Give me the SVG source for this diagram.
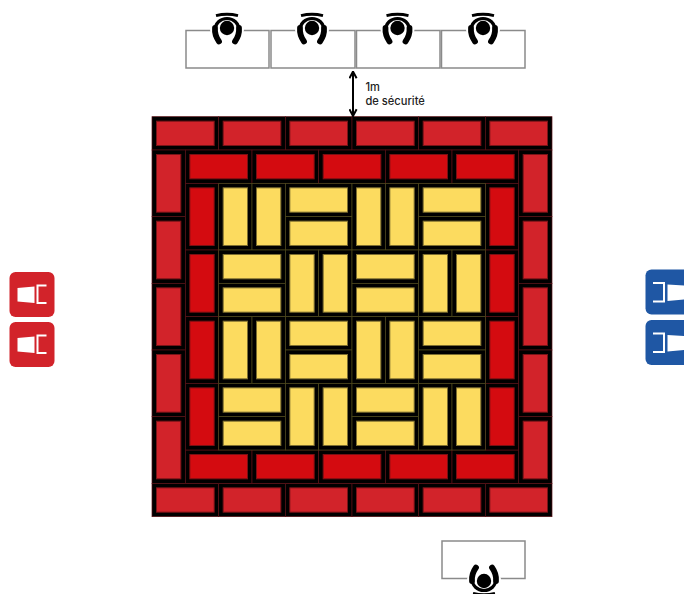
<svg xmlns="http://www.w3.org/2000/svg" width="684" height="594" viewBox="0 0 684 594">
<style>
.cell{fill:#000;stroke:#5a1015;stroke-width:.7}
.ycell{fill:#000;stroke:#4f4a1c;stroke-width:.7}
.o{fill:#d2232a;stroke:#7a1418;stroke-width:1}
.r{fill:#d40b10;stroke:#7a1014;stroke-width:1}
.y{fill:#fcdb5f;stroke:#7d6e30;stroke-width:1}
.table{fill:#fff;stroke:#8a8a8a;stroke-width:1.5}
.seat{fill:#fff}
.back{fill:none;stroke:#fff;stroke-width:2}
.lbl{font-family:Inter,"Liberation Sans",sans-serif;font-size:11.1px;font-weight:500;fill:#222}
</style>
<defs>
<rect id="ch" class="cell" width="66.67" height="33.33"/>
<rect id="cv" class="cell" width="33.33" height="66.67"/>
<g id="oh"><use href="#ch"/><rect class="o" x="4.5" y="4.5" width="57.67" height="24.33"/></g>
<g id="ov"><use href="#cv"/><rect class="o" x="4.5" y="4.5" width="24.33" height="57.67"/></g>
<g id="rh"><use href="#ch"/><rect class="r" x="4.5" y="4.5" width="57.67" height="24.33"/></g>
<g id="rv"><use href="#cv"/><rect class="r" x="4.5" y="4.5" width="24.33" height="57.67"/></g>
<g id="yh"><rect class="ycell" width="66.67" height="33.33"/><rect class="y" x="4.5" y="4.5" width="57.67" height="24.33"/></g>
<g id="yv"><rect class="ycell" width="33.33" height="66.67"/><rect class="y" x="4.5" y="4.5" width="24.33" height="57.67"/></g>
<g id="bh"><use href="#yh"/><use href="#yh" y="33.33"/></g>
<g id="bv"><use href="#yv"/><use href="#yv" x="33.33"/></g>
<g id="person">
<path d="M-13 16 L-17 2 C-17 -8 -8 -14 0 -14 C8 -14 17 -8 17 2 L13 16 Z" fill="#fff"/>
<path d="M-12 3 C-12 -5 -6.500 -9.500 0 -9.500 C6.500 -9.500 12 -5 12 3" fill="none" stroke="#000" stroke-width="3.200"/>
<path d="M-12 0 C-12.500 6 -10.500 10 -8 13.500" fill="none" stroke="#000" stroke-width="5.800" stroke-linecap="round"/>
<path d="M12 0 C12.500 6 10.500 10 8 13.500" fill="none" stroke="#000" stroke-width="5.800" stroke-linecap="round"/>
<circle r="7.200" fill="#000"/>
<path d="M-11 -12.300 Q0 -15.200 11 -12.300" fill="none" stroke="#000" stroke-width="2.800"/>
</g>
<g id="chairL">
<path class="seat" d="M17.500 288 L34.500 286.500 L34.500 303 L17.500 301.500 Z"/>
<path class="back" d="M46.500 285.500 L37.500 285.500 L37.500 303 L46.500 303"/>
</g>
<g id="chairR">
<path class="seat" d="M667.500 284.500 L684 285.500 L684 299.500 L667.500 301 Z"/>
<path class="back" d="M653 283 L664 283 L664 301.500 L653 301.500"/>
</g>
<marker id="ah" viewBox="0 0 10 10" refX="9" refY="5" markerWidth="9" markerHeight="9" orient="auto-start-reverse" markerUnits="userSpaceOnUse"><path d="M1.500 1 L9 5 L1.500 9" fill="none" stroke="#000" stroke-width="2.200"/></marker>
</defs>

<g id="floor">
<g id="outer-ring">
<use href="#oh" x="152" y="116.67"/><use href="#oh" x="218.67" y="116.67"/><use href="#oh" x="285.33" y="116.67"/><use href="#oh" x="352" y="116.67"/><use href="#oh" x="418.67" y="116.67"/><use href="#oh" x="485.33" y="116.67"/>
<use href="#oh" x="152" y="483.33"/><use href="#oh" x="218.67" y="483.33"/><use href="#oh" x="285.33" y="483.33"/><use href="#oh" x="352" y="483.33"/><use href="#oh" x="418.67" y="483.33"/><use href="#oh" x="485.33" y="483.33"/>
<use href="#ov" x="152" y="150"/><use href="#ov" x="152" y="216.67"/><use href="#ov" x="152" y="283.33"/><use href="#ov" x="152" y="350"/><use href="#ov" x="152" y="416.67"/>
<use href="#ov" x="518.67" y="150"/><use href="#ov" x="518.67" y="216.67"/><use href="#ov" x="518.67" y="283.33"/><use href="#ov" x="518.67" y="350"/><use href="#ov" x="518.67" y="416.67"/>
</g>
<g id="inner-ring">
<use href="#rh" x="185.33" y="150"/><use href="#rh" x="252" y="150"/><use href="#rh" x="318.67" y="150"/><use href="#rh" x="385.33" y="150"/><use href="#rh" x="452" y="150"/>
<use href="#rh" x="185.33" y="450"/><use href="#rh" x="252" y="450"/><use href="#rh" x="318.67" y="450"/><use href="#rh" x="385.33" y="450"/><use href="#rh" x="452" y="450"/>
<use href="#rv" x="185.33" y="183.33"/><use href="#rv" x="185.33" y="250"/><use href="#rv" x="185.33" y="316.67"/><use href="#rv" x="185.33" y="383.33"/>
<use href="#rv" x="485.33" y="183.33"/><use href="#rv" x="485.33" y="250"/><use href="#rv" x="485.33" y="316.67"/><use href="#rv" x="485.33" y="383.33"/>
</g>
<g id="center">
<use href="#bv" x="218.67" y="183.33"/><use href="#bh" x="285.33" y="183.33"/><use href="#bv" x="352" y="183.33"/><use href="#bh" x="418.67" y="183.33"/>
<use href="#bh" x="218.67" y="250"/><use href="#bv" x="285.33" y="250"/><use href="#bh" x="352" y="250"/><use href="#bv" x="418.67" y="250"/>
<use href="#bv" x="218.67" y="316.67"/><use href="#bh" x="285.33" y="316.67"/><use href="#bv" x="352" y="316.67"/><use href="#bh" x="418.67" y="316.67"/>
<use href="#bh" x="218.67" y="383.33"/><use href="#bv" x="285.33" y="383.33"/><use href="#bh" x="352" y="383.33"/><use href="#bv" x="418.67" y="383.33"/>
</g>
</g>

<g id="table-1"><rect class="table" x="186" y="30.500" width="83" height="37.500"/><use href="#person" x="227" y="28"/></g>
<g id="table-2"><rect class="table" x="271" y="30.500" width="84" height="37.500"/><use href="#person" x="312" y="28"/></g>
<g id="table-3"><rect class="table" x="356.500" y="30.500" width="83.500" height="37.500"/><use href="#person" x="397.500" y="28"/></g>
<g id="table-4"><rect class="table" x="441.500" y="30.500" width="83.500" height="37.500"/><use href="#person" x="483" y="28"/></g>
<g id="table-5"><rect class="table" x="442" y="541" width="83" height="37.500"/><use href="#person" transform="translate(484 581) rotate(180)"/></g>

<g id="red-chair-1"><rect x="9.500" y="272" width="45" height="45" rx="6" fill="#d2232a"/><use href="#chairL"/></g>
<g id="red-chair-2"><rect x="9.500" y="322" width="45" height="45" rx="6" fill="#d2232a"/><use href="#chairL" y="50"/></g>
<g id="blue-chair-1"><rect x="645.500" y="269.500" width="50" height="45" rx="6" fill="#1f57a4"/><use href="#chairR"/></g>
<g id="blue-chair-2"><rect x="645.500" y="320" width="50" height="45" rx="6" fill="#1f57a4"/><use href="#chairR" y="50.500"/></g>

<g id="connectors">
<line x1="353" y1="71.500" x2="353" y2="116" stroke="#000" stroke-width="2" marker-start="url(#ah)" marker-end="url(#ah)"/>
</g>
<g id="label"><text class="lbl" x="365.500" y="90.500">1m</text><text class="lbl" x="365.500" y="104.500">de sécurité</text></g>
</svg>
